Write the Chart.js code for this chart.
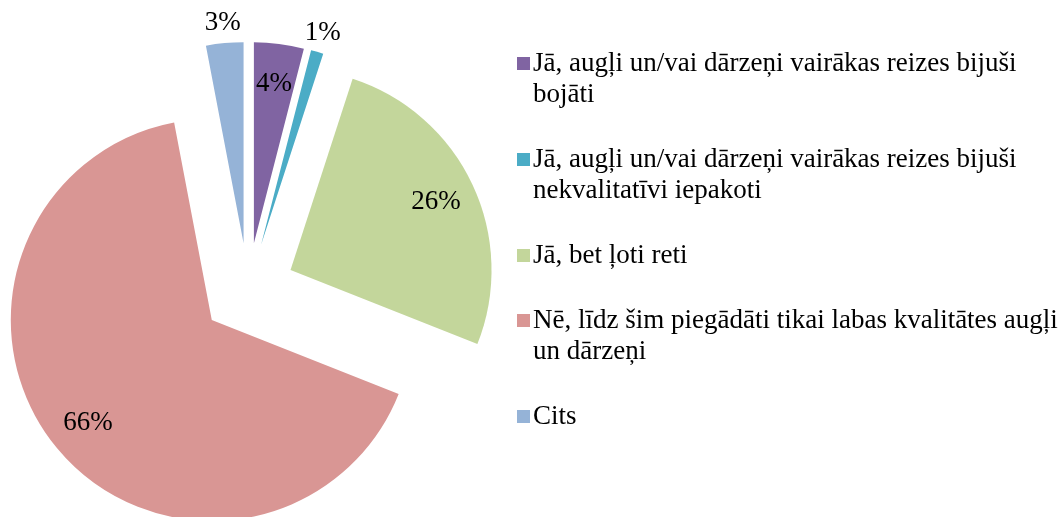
<!DOCTYPE html>
<html>
<head>
<meta charset="utf-8">
<script src="https://cdn.jsdelivr.net/npm/chart.js@4.4.1/dist/chart.umd.min.js"></script>
<style>
  html, body { margin: 0; padding: 0; background: #fff; }
  #wrap { position: relative; width: 1058px; height: 517px; overflow: hidden; }
  #c { position: absolute; left: 0; top: 0; }
  #legend { position: absolute; left: 517px; top: 47px; font-family: "Liberation Serif", "Times New Roman", Tinos, "DejaVu Serif", serif; font-size: 27px; line-height: 31px; color: #000; }
  .item { display: flex; align-items: flex-start; margin-bottom: 34px; white-space: nowrap; }
  .sw { width: 13px; height: 13px; margin-top: 10px; margin-right: 3px; flex: none; }
</style>
</head>
<body>
<div id="wrap">
  <canvas id="c" width="1058" height="517"></canvas>
  <div id="legend"></div>
</div>
<script>
const categories = [
  ["Jā, augļi un/vai dārzeņi vairākas reizes bijuši", "bojāti"],
  ["Jā, augļi un/vai dārzeņi vairākas reizes bijuši", "nekvalitatīvi iepakoti"],
  ["Jā, bet ļoti reti"],
  ["Nē, līdz šim piegādāti tikai labas kvalitātes augļi", "un dārzeņi"],
  ["Cits"]
];
const values = [4, 1, 26, 66, 3];
const colors = ["#8064A2", "#4BACC6", "#C3D69B", "#D99694", "#95B3D7"];

const EXPLODE = 47;
const FONT = '27px "Liberation Serif", "Times New Roman", Tinos, "DejaVu Serif", serif';

const explodePlugin = {
  id: 'explode',
  afterDatasetsUpdate(chart) {
    const ca = chart.chartArea;
    const cx = (ca.left + ca.right) / 2;
    const cy = (ca.top + ca.bottom) / 2;
    chart.getDatasetMeta(0).data.forEach(arc => {
      const mid = (arc.startAngle + arc.endAngle) / 2;
      arc.x = cx + Math.cos(mid) * EXPLODE;
      arc.y = cy + Math.sin(mid) * EXPLODE;
    });
  }
};

const labelPlugin = {
  id: 'pctLabels',
  afterDatasetsDraw(chart) {
    const ctx = chart.ctx;
    const ds = chart.data.datasets[0];
    ctx.save();
    ctx.font = FONT;
    ctx.fillStyle = '#000';
    ctx.textAlign = 'center';
    ctx.textBaseline = 'middle';
    chart.getDatasetMeta(0).data.forEach((arc, i) => {
      const v = ds.data[i];
      const mid = (arc.startAngle + arc.endAngle) / 2;
      const f = v < 4 ? 1.1 : 0.8;
      const r = arc.outerRadius * f;
      ctx.fillText(v + '%', arc.x + Math.cos(mid) * r, arc.y + Math.sin(mid) * r);
    });
    ctx.restore();
  }
};

function build() {
  new Chart(document.getElementById('c'), {
    type: 'pie',
    data: {
      labels: categories,
      datasets: [{
        data: values,
        backgroundColor: colors,
        borderWidth: 0,
        hoverOffset: 0,
        offset: 0
      }]
    },
    options: {
      responsive: false,
      animation: false,
      events: [],
      radius: 201,
      layout: { padding: { left: 0, right: 562, top: 63, bottom: 0 } },
      plugins: { legend: { display: false }, tooltip: { enabled: false } }
    },
    plugins: [explodePlugin, labelPlugin]
  });
}

const legend = document.getElementById('legend');
categories.forEach((lines, i) => {
  const item = document.createElement('div');
  item.className = 'item';
  const sw = document.createElement('div');
  sw.className = 'sw';
  sw.style.background = colors[i];
  const txt = document.createElement('div');
  txt.innerHTML = lines.join('<br>');
  item.appendChild(sw);
  item.appendChild(txt);
  legend.appendChild(item);
});

if (document.fonts && document.fonts.load) {
  document.fonts.load(FONT).then(build, build);
} else {
  build();
}
</script>
</body>
</html>
